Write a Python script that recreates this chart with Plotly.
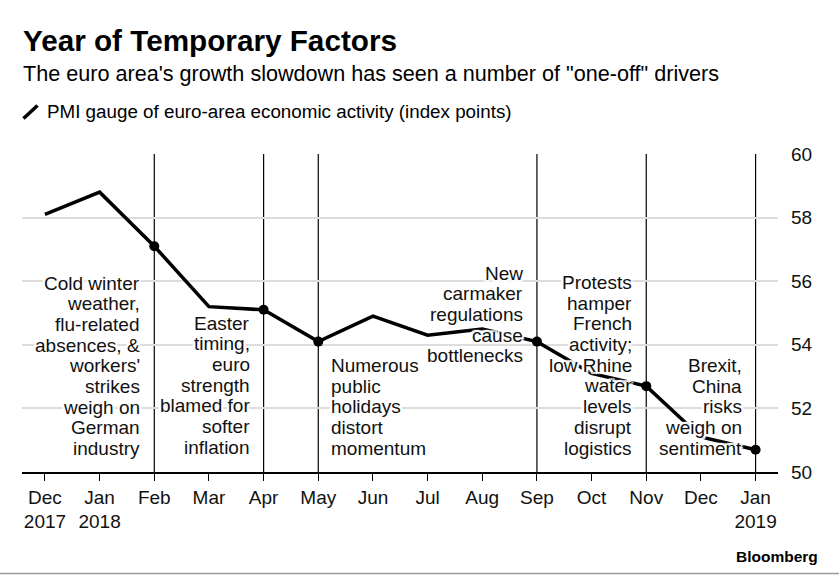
import plotly.graph_objects as go

# ---------------- data ----------------
months = ["Dec<br>2017", "Jan<br>2018", "Feb", "Mar", "Apr", "May", "Jun",
          "Jul", "Aug", "Sep", "Oct", "Nov", "Dec", "Jan<br>2019"]
pmi = [58.1, 58.8, 57.1, 55.2, 55.1, 54.1, 54.9, 54.3, 54.5, 54.1, 53.1, 52.7, 51.1, 50.7]
event_months = [2, 4, 5, 9, 11, 13]   # indices of months with a vertical marker line

note_cold = ["Cold winter", "weather,", "flu-related", "absences, &", "workers'",
             "strikes", "weigh on", "German", "industry"]
note_easter = ["Easter", "timing,", "euro", "strength", "blamed for", "softer", "inflation"]
note_may = ["Numerous", "public", "holidays", "distort", "momentum"]
note_car = ["New", "carmaker", "regulations", "cause", "bottlenecks"]
note_protest = ["Protests", "hamper", "French", "activity;", "low Rhine", "water",
                "levels", "disrupt", "logistics"]
note_brexit = ["Brexit,", "China", "risks", "weigh on", "sentiment"]

title = "Year of Temporary Factors"
subtitle = "The euro area's growth slowdown has seen a number of \"one-off\" drivers"
legend_label = "PMI gauge of euro-area economic activity (index points)"
y_ticks = [50, 52, 54, 56, 58, 60]

# ---------------- layout helpers ----------------
W, H = 839, 575
PL, PR, PT, PB = 22, 778, 154, 472.3
FONT = "Liberation Sans, Arial, Helvetica, sans-serif"


def pxx(xpix):
    return (xpix - PL) / (PR - PL)


def pyy(ypix):
    return (PB - ypix) / (PB - PT)


x_idx = list(range(len(months)))

fig = go.Figure()
fig.add_trace(go.Scatter(x=x_idx, y=pmi, mode="lines",
                         line=dict(color="black", width=3.5),
                         hoverinfo="skip", showlegend=False))
fig.add_trace(go.Scatter(x=event_months, y=[pmi[i] for i in event_months],
                         mode="markers", marker=dict(color="black", size=10),
                         hoverinfo="skip", showlegend=False, cliponaxis=False))

shapes = []
for m in event_months:
    shapes.append(dict(type="line", xref="x", yref="y", x0=m, x1=m, y0=50, y1=60,
                       line=dict(color="black", width=1.2), layer="below"))
# legend icon
shapes.append(dict(type="line", xref="paper", yref="paper",
                   x0=pxx(23.5), x1=pxx(37.5), y0=pyy(118.5), y1=pyy(105.5),
                   line=dict(color="black", width=3.5)))
# bottom border
shapes.append(dict(type="line", xref="paper", yref="paper",
                   x0=pxx(0), x1=pxx(W), y0=pyy(574), y1=pyy(574),
                   line=dict(color="#9a9a9a", width=1.5)))

HALO = ("2px 0 1px #fff, -2px 0 1px #fff, 0 2px 1px #fff, 0 -2px 1px #fff, "
        "2px 2px 1px #fff, -2px -2px 1px #fff, 2px -2px 1px #fff, -2px 2px 1px #fff")

annotations = []
notes = [
    (note_cold, 2, "right", -13, 283.3),
    (note_easter, 4, "right", -13, 323.3),
    (note_may, 5, "left", 12, 365.7),
    (note_car, 9, "right", -13, 273.3),
    (note_protest, 11, "right", -13, 282.7),
    (note_brexit, 13, "right", -13, 365.7),
]
LINE_H = 20.7
for lines, m, side, shift, top in notes:
    for i, t in enumerate(lines):
        annotations.append(dict(
            text=t, xref="x", yref="paper", x=m, y=pyy(top + i * LINE_H),
            xanchor=side, yanchor="middle", xshift=shift, showarrow=False,
            borderpad=0, align=side,
            font=dict(family=FONT, size=19, color="#111", shadow=HALO)))

annotations += [
    dict(text="<b>" + title + "</b>", xref="paper", yref="paper", x=pxx(21.5), y=pyy(40.5),
         xanchor="left", yanchor="middle", showarrow=False, borderpad=0,
         font=dict(family=FONT, size=29.7, color="black")),
    dict(text=subtitle, xref="paper", yref="paper", x=pxx(21.5), y=pyy(73.8),
         xanchor="left", yanchor="middle", showarrow=False, borderpad=0,
         font=dict(family=FONT, size=21.6, color="black")),
    dict(text=legend_label, xref="paper", yref="paper", x=pxx(45.5), y=pyy(111.8),
         xanchor="left", yanchor="middle", showarrow=False, borderpad=0,
         font=dict(family=FONT, size=18.8, color="black")),
    dict(text="<b>Bloomberg</b>", xref="paper", yref="paper", x=pxx(819), y=pyy(557),
         xanchor="right", yanchor="middle", showarrow=False, borderpad=0,
         font=dict(family=FONT, size=15.5, color="black")),
]

fig.update_layout(
    width=W, height=H,
    margin=dict(l=PL, r=W - PR, t=PT, b=H - PB, pad=0),
    paper_bgcolor="white", plot_bgcolor="white",
    font=dict(family=FONT, size=19, color="black"),
    shapes=shapes, annotations=annotations,
    xaxis=dict(range=[-0.42, 13.41], tickmode="array", tickvals=x_idx, ticktext=months,
               showgrid=False, zeroline=False, showline=True, linecolor="black",
               linewidth=1.5, ticks="outside", ticklen=7, tickwidth=1.3,
               tickcolor="black", tickfont=dict(family=FONT, size=19, color="#111"),
               fixedrange=True),
    yaxis=dict(range=[50, 60], side="right", tickmode="array", tickvals=y_ticks,
               showgrid=True, gridcolor="#dddddd", gridwidth=1.5, zeroline=False,
               showline=False, ticks="", ticklabelstandoff=12,
               tickfont=dict(family=FONT, size=19, color="#111"), fixedrange=True),
)

fig.write_html("out.html", config={"displayModeBar": False},
               post_script="document.body.style.margin='0';document.body.style.padding='0';")
